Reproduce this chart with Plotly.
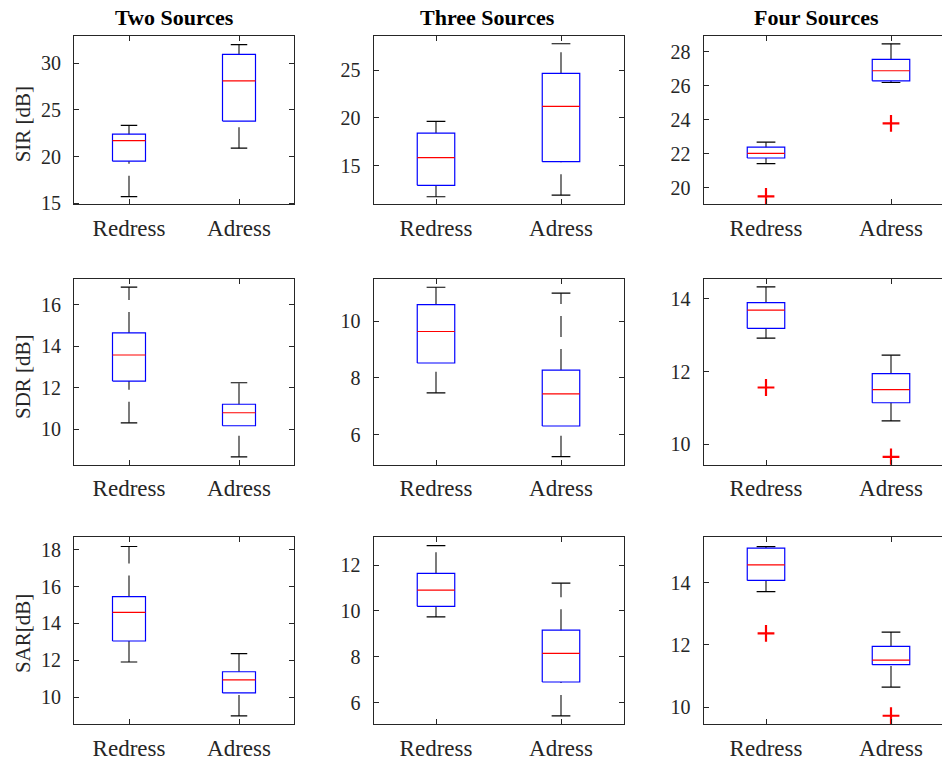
import plotly.graph_objects as go

# ---------------- data ----------------
methods = ["Redress", "Adress"]
positions = [1, 2]
sources = ["Two Sources", "Three Sources", "Four Sources"]
metrics = ["SIR [dB]", "SDR [dB]", "SAR[dB]"]

# per metric: [source][method]
sir_low = [[15.7, 20.9], [11.73, 11.9], [21.42, 26.19]]
sir_q1 = [[19.5, 23.8], [12.93, 15.41], [21.75, 26.29]]
sir_med = [[21.7, 28.1], [15.83, 21.2], [22.02, 26.88]]
sir_q3 = [[22.4, 30.95], [18.4, 24.66], [22.39, 27.55]]
sir_high = [[23.33, 32.0], [19.62, 27.76], [22.68, 28.46]]
sir_out = [[[], []], [[], []], [[19.5], [23.79]]]

sdr_low = [[10.3, 8.66], [7.47, 5.22], [12.92, 10.64]]
sdr_q1 = [[12.32, 10.16], [8.52, 6.3], [13.19, 11.14]]
sdr_med = [[13.58, 10.79], [9.63, 7.43], [13.69, 11.5]]
sdr_q3 = [[14.65, 11.2], [10.58, 8.27], [13.9, 11.94]]
sdr_high = [[16.86, 12.24], [11.19, 10.98], [14.33, 12.45]]
sdr_out = [[[], []], [[], []], [[11.56], [9.65]]]

sar_low = [[11.91, 8.98], [9.74, 5.42], [13.71, 10.64]]
sar_q1 = [[13.05, 10.23], [10.2, 6.9], [14.07, 11.36]]
sar_med = [[14.6, 10.94], [10.91, 8.15], [14.57, 11.51]]
sar_q3 = [[15.46, 11.38], [11.64, 9.16], [15.11, 11.95]]
sar_high = [[18.18, 12.36], [12.85, 11.21], [15.16, 12.41]]
sar_out = [[[], []], [[], []], [[12.37], [9.72]]]

# axis limits [row][col] and tick steps
y_ranges = [
    [[14.88, 32.97], [10.94, 28.62], [19.03, 28.95]],
    [[8.27, 17.24], [4.93, 11.47], [9.43, 14.54]],
    [[8.52, 18.7], [5.05, 13.23], [9.44, 15.47]],
]
y_dticks = [[5, 5, 2], [2, 2, 2], [2, 2, 2]]

stats = [
    (sir_low, sir_q1, sir_med, sir_q3, sir_high, sir_out),
    (sdr_low, sdr_q1, sdr_med, sdr_q3, sdr_high, sdr_out),
    (sar_low, sar_q1, sar_med, sar_q3, sar_high, sar_out),
]

# ---------------- layout geometry (pixels) ----------------
W, H = 942, 767
col_px = [(74, 294), (373.5, 623.5), (703.5, 942)]
col_xrange = [[0.5, 2.5], [0.5, 2.5], [0.5, 0.5 + (942 - 703.5) / 125.0]]
row_px = [(36, 207), (283, 471), (544, 734)]
title_x = [174, 487, 816.5]
ylabel_y = [126, 382, 642.5]

AX = "#262626"
FONT = "'Liberation Serif', 'Times New Roman', serif"
BOXW = 0.3
CAPW = 0.15
DASH = "21px,12px"

fig = go.Figure()
layout = {}


def line_trace(xs, ys, color, width, xa, ya, dash="solid"):
    return go.Scatter(x=xs, y=ys, mode="lines",
                      line=dict(color=color, width=width, dash=dash),
                      hoverinfo="skip", showlegend=False, xaxis=xa, yaxis=ya)


for r in range(3):
    low, q1, med, q3, high, outs = stats[r]
    for c in range(3):
        idx = r * 3 + c + 1
        xa = "x" if idx == 1 else f"x{idx}"
        ya = "y" if idx == 1 else f"y{idx}"
        for m in range(2):
            p = positions[m]
            a, b = p - BOXW / 2, p + BOXW / 2
            # whiskers (dashed, drawn bottom-to-top)
            fig.add_trace(line_trace([p, p], [low[c][m], q1[c][m]], "#333333", 1.3, xa, ya, DASH))
            fig.add_trace(line_trace([p, p], [q3[c][m], high[c][m]], "#333333", 1.3, xa, ya, DASH))
            # caps
            for yv in (low[c][m], high[c][m]):
                fig.add_trace(line_trace([p - CAPW / 2, p + CAPW / 2], [yv, yv], "#000000", 1.2, xa, ya))
            # box
            fig.add_trace(line_trace([a, b, b, a, a],
                                     [q1[c][m], q1[c][m], q3[c][m], q3[c][m], q1[c][m]],
                                     "#0000FF", 1.2, xa, ya))
            # median
            fig.add_trace(line_trace([a, b], [med[c][m], med[c][m]], "#FF0000", 1.2, xa, ya))
            # outliers
            if outs[c][m]:
                fig.add_trace(go.Scatter(
                    x=[p] * len(outs[c][m]), y=outs[c][m], mode="markers",
                    marker=dict(symbol="cross-thin-open", size=12, color="#FF0000",
                                line=dict(color="#FF0000", width=2.2)),
                    hoverinfo="skip", showlegend=False, xaxis=xa, yaxis=ya))

        x0, x1 = col_px[c]
        y0, y1 = row_px[r]
        xkey = "xaxis" if idx == 1 else f"xaxis{idx}"
        ykey = "yaxis" if idx == 1 else f"yaxis{idx}"
        layout[xkey] = dict(
            domain=[x0 / W, x1 / W], range=col_xrange[c], anchor=ya,
            tickvals=positions, ticktext=methods,
            ticks="inside", ticklen=5, tickcolor=AX, tickwidth=1,
            showline=True, linecolor=AX, linewidth=1, mirror="ticks",
            showgrid=False, zeroline=False, fixedrange=True,
            tickfont=dict(family=FONT, size=23, color=AX),
            ticklabelstandoff=3,
        )
        layout[ykey] = dict(
            domain=[1 - y1 / H, 1 - y0 / H], range=y_ranges[r][c], anchor=xa,
            dtick=y_dticks[r][c], tick0=0,
            ticks="inside", ticklen=5, tickcolor=AX, tickwidth=1,
            showline=True, linecolor=AX, linewidth=1,
            mirror=("ticks" if c < 2 else False),
            showgrid=False, zeroline=False, fixedrange=True,
            tickfont=dict(family=FONT, size=20, color=AX),
            ticklabelstandoff=8,
        )

annotations = []
for c in range(3):
    annotations.append(dict(
        text="<b>" + sources[c] + "</b>", x=title_x[c] / W, y=1 - 18 / H,
        xref="paper", yref="paper", xanchor="center", yanchor="middle",
        showarrow=False, font=dict(family=FONT, size=22, color="#000000")))
for r in range(3):
    annotations.append(dict(
        text=metrics[r], x=23 / W, y=1 - ylabel_y[r] / H,
        xref="paper", yref="paper", xanchor="center", yanchor="middle",
        textangle=-90, showarrow=False,
        font=dict(family=FONT, size=21, color=AX)))

fig.update_layout(
    width=W, height=H, margin=dict(l=0, r=0, t=0, b=0),
    paper_bgcolor="white", plot_bgcolor="white",
    showlegend=False, annotations=annotations,
    **layout,
)

fig.write_html("out.html")
